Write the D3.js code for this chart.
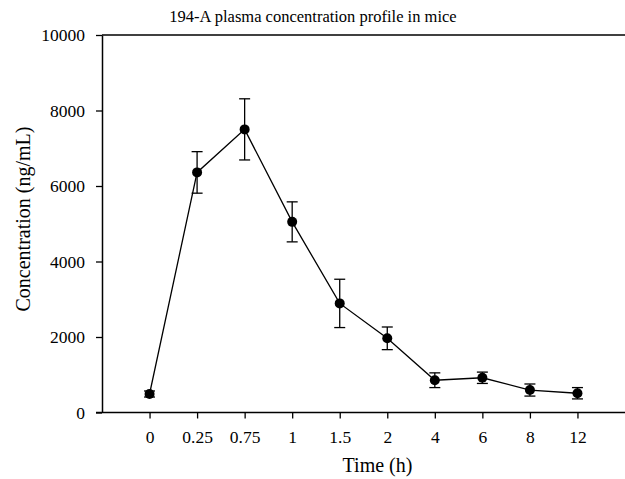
<!DOCTYPE html>
<html>
<head>
<meta charset="utf-8">
<script src="https://cdn.jsdelivr.net/npm/d3@7"></script>
<style>
  body { margin: 0; background: #fff; }
</style>
</head>
<body>
<div id="chart"></div>
<script>
// time points (h), mean concentration and error (ng/mL)
const times = ["0", "0.25", "0.75", "1", "1.5", "2", "4", "6", "8", "12"];
const meanConc = [490, 6360, 7500, 5050, 2890, 1965, 855, 920, 595, 510];
const errConc = [80, 550, 810, 530, 640, 300, 195, 150, 160, 150];
const yTicks = [0, 2000, 4000, 6000, 8000, 10000];

const width = 625;
const height = 479;
const margin = { top: 35, right: 0, bottom: 66.5, left: 102 };
const font = "'Liberation Serif', 'Times New Roman', serif";

const data = times.map((t, i) => ({ t, v: meanConc[i], e: errConc[i] }));

const svg = d3.select("#chart")
    .append("svg")
    .attr("width", width)
    .attr("height", height);

const x = d3.scalePoint()
    .domain(times)
    .range([margin.left, width - margin.right])
    .padding(1);

const y = d3.scaleLinear()
    .domain([0, 10000])
    .range([height - margin.bottom, margin.top]);

// frame line at top
svg.append("line")
    .attr("x1", margin.left)
    .attr("x2", width)
    .attr("y1", y(10000))
    .attr("y2", y(10000))
    .attr("stroke", "#000")
    .attr("stroke-width", 1.5);

const xAxis = svg.append("g")
    .attr("transform", `translate(0,${y(0)})`)
    .call(d3.axisBottom(x).tickSize(6).tickPadding(12).tickSizeOuter(0));

const yAxis = svg.append("g")
    .attr("transform", `translate(${margin.left},0)`)
    .call(d3.axisLeft(y).tickValues(yTicks).tickFormat(d3.format("d")).tickSize(6).tickPadding(11).tickSizeOuter(0));

[xAxis, yAxis].forEach(g => {
    g.select(".domain").attr("stroke-width", 1.5);
    g.selectAll(".tick line").attr("stroke-width", 1.3);
    g.selectAll("text")
        .style("font-family", font)
        .style("font-size", "17.5px")
        .attr("fill", "#000");
});
xAxis.select(".domain").attr("d", `M${margin.left - 6},0H${width}`);

// error bars
const capW = 5.5;
const err = svg.append("g")
    .attr("stroke", "#000")
    .attr("stroke-width", 1.3);

data.forEach(d => {
    const cx = x(d.t);
    err.append("line")
        .attr("x1", cx).attr("x2", cx)
        .attr("y1", y(d.v - d.e)).attr("y2", y(d.v + d.e));
    [d.v - d.e, d.v + d.e].forEach(v => {
        err.append("line")
            .attr("x1", cx - capW).attr("x2", cx + capW)
            .attr("y1", y(v)).attr("y2", y(v));
    });
});

const line = d3.line()
    .x(d => x(d.t))
    .y(d => y(d.v));

svg.append("path")
    .datum(data)
    .attr("d", line)
    .attr("fill", "none")
    .attr("stroke", "#000")
    .attr("stroke-width", 1.3);

svg.selectAll("circle.pt")
    .data(data)
    .enter()
    .append("circle")
    .attr("class", "pt")
    .attr("cx", d => x(d.t))
    .attr("cy", d => y(d.v))
    .attr("r", 5)
    .attr("fill", "#000");

svg.append("text")
    .attr("x", 313)
    .attr("y", 22)
    .attr("text-anchor", "middle")
    .style("font-family", font)
    .style("font-size", "16.5px")
    .text("194-A plasma concentration profile in mice");

svg.append("text")
    .attr("x", 377.5)
    .attr("y", 472)
    .attr("text-anchor", "middle")
    .style("font-family", font)
    .style("font-size", "20px")
    .text("Time (h)");

svg.append("text")
    .attr("transform", `translate(30,219) rotate(-90)`)
    .attr("text-anchor", "middle")
    .style("font-family", font)
    .style("font-size", "20px")
    .text("Concentration (ng/mL)");
</script>
</body>
</html>
